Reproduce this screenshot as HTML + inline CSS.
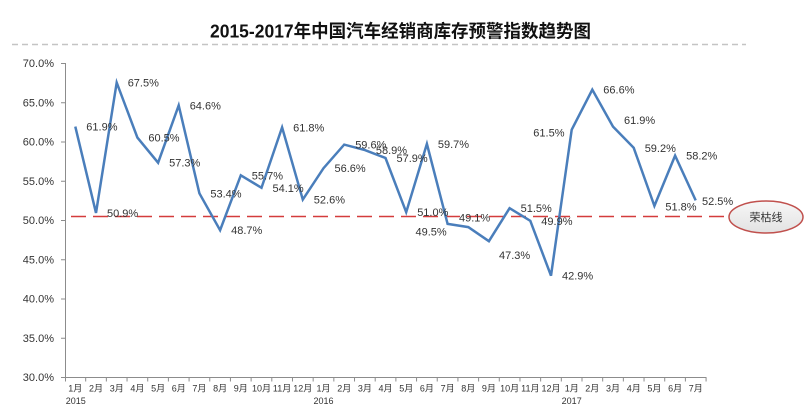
<!DOCTYPE html>
<html>
<head>
<meta charset="utf-8">
<style>
  html, body { margin:0; padding:0; background:#ffffff; }
  body { width:811px; height:412px; overflow:hidden; }
  svg { display:block; }
  .t { font-family:"Liberation Sans","Noto Sans CJK SC",sans-serif; }
</style>
</head>
<body>
<svg width="811" height="412" viewBox="0 0 811 412" xmlns="http://www.w3.org/2000/svg">
  <defs>
    <linearGradient id="eg" x1="0" y1="0" x2="0" y2="1">
      <stop offset="0" stop-color="#f7f7f7"/>
      <stop offset="1" stop-color="#e2e2e2"/>
    </linearGradient>
  </defs>
  <rect width="811" height="412" fill="#ffffff"/>

  <!-- Title -->
  <text class="t" x="210" y="37.5" font-size="18" font-weight="bold" fill="#111" textLength="381" lengthAdjust="spacingAndGlyphs">2015-2017年中国汽车经销商库存预警指数趋势图</text>
  <line x1="12" y1="44.5" x2="746" y2="44.5" stroke="#c4c4c4" stroke-width="1.5" stroke-dasharray="6 4"/>

  <!-- Y axis -->
  <line x1="65.5" y1="63" x2="65.5" y2="377.5" stroke="#8c8c8c" stroke-width="1"/>
  <path d="M61,63.5H65.5 M61,102.75H65.5 M61,142H65.5 M61,181.25H65.5 M61,220.5H65.5 M61,259.75H65.5 M61,299H65.5 M61,338.25H65.5 M61,377.5H65.5" stroke="#8c8c8c" stroke-width="1"/>
  <g class="t" font-size="11" fill="#333" text-anchor="end">
    <text x="54" y="67">70.0%</text>
    <text x="54" y="106.3">65.0%</text>
    <text x="54" y="145.5">60.0%</text>
    <text x="54" y="184.8">55.0%</text>
    <text x="54" y="224">50.0%</text>
    <text x="54" y="263.3">45.0%</text>
    <text x="54" y="302.5">40.0%</text>
    <text x="54" y="341.8">35.0%</text>
    <text x="54" y="381">30.0%</text>
  </g>

  <!-- X axis -->
  <line x1="65" y1="377.5" x2="706.5" y2="377.5" stroke="#8c8c8c" stroke-width="1"/>
  <path d="M65.5,377.5v4 M85.68,377.5v4 M106.36,377.5v4 M127.04,377.5v4 M147.72,377.5v4 M168.4,377.5v4 M189.08,377.5v4 M209.76,377.5v4 M230.44,377.5v4 M251.12,377.5v4 M271.8,377.5v4 M292.48,377.5v4 M313.16,377.5v4 M333.84,377.5v4 M354.52,377.5v4 M375.2,377.5v4 M395.88,377.5v4 M416.56,377.5v4 M437.24,377.5v4 M457.92,377.5v4 M478.6,377.5v4 M499.28,377.5v4 M519.96,377.5v4 M540.64,377.5v4 M561.32,377.5v4 M582,377.5v4 M602.68,377.5v4 M623.36,377.5v4 M644.04,377.5v4 M664.72,377.5v4 M685.4,377.5v4 M706.08,377.5v4" stroke="#8c8c8c" stroke-width="1"/>
  <g class="t" font-size="9" fill="#333" text-anchor="middle">
    <text x="75.3" y="391.5">1月</text>
    <text x="96.0" y="391.5">2月</text>
    <text x="116.7" y="391.5">3月</text>
    <text x="137.4" y="391.5">4月</text>
    <text x="158.1" y="391.5">5月</text>
    <text x="178.7" y="391.5">6月</text>
    <text x="199.4" y="391.5">7月</text>
    <text x="220.1" y="391.5">8月</text>
    <text x="240.8" y="391.5">9月</text>
    <text x="261.5" y="391.5">10月</text>
    <text x="282.1" y="391.5">11月</text>
    <text x="302.8" y="391.5">12月</text>
    <text x="323.5" y="391.5">1月</text>
    <text x="344.2" y="391.5">2月</text>
    <text x="364.9" y="391.5">3月</text>
    <text x="385.5" y="391.5">4月</text>
    <text x="406.2" y="391.5">5月</text>
    <text x="426.9" y="391.5">6月</text>
    <text x="447.6" y="391.5">7月</text>
    <text x="468.3" y="391.5">8月</text>
    <text x="488.9" y="391.5">9月</text>
    <text x="509.6" y="391.5">10月</text>
    <text x="530.3" y="391.5">11月</text>
    <text x="551.0" y="391.5">12月</text>
    <text x="571.7" y="391.5">1月</text>
    <text x="592.3" y="391.5">2月</text>
    <text x="613.0" y="391.5">3月</text>
    <text x="633.7" y="391.5">4月</text>
    <text x="654.4" y="391.5">5月</text>
    <text x="675.1" y="391.5">6月</text>
    <text x="695.7" y="391.5">7月</text>
    <text x="75.8" y="404">2015</text>
    <text x="323.5" y="404">2016</text>
    <text x="571.7" y="404">2017</text>
  </g>

  <!-- Boom-bust line -->
  <line x1="71" y1="216.5" x2="728" y2="216.5" stroke="#d43c3c" stroke-width="1.5" stroke-dasharray="15 7"/>
  <ellipse cx="766" cy="217" rx="37" ry="16" fill="url(#eg)" stroke="#c0504d" stroke-width="1.5"/>
  <text class="t" x="766" y="221" font-size="11" fill="#333" text-anchor="middle">荣枯线</text>

  <!-- Series -->
  <polyline fill="none" stroke="#4a7ebb" stroke-width="2.5" stroke-linejoin="miter" points="75.3,126.6 96.0,212.9 116.7,82.6 137.4,137.6 158.1,162.7 178.7,105.4 199.4,193.3 220.1,230.2 240.8,175.3 261.5,187.8 282.1,127.4 302.8,199.6 323.5,168.2 344.2,144.6 364.9,150.1 385.5,158.0 406.2,212.2 426.9,143.9 447.6,223.9 468.3,227.1 488.9,241.2 509.6,208.2 530.3,220.8 551.0,275.7 571.7,129.7 592.3,89.7 613.0,126.6 633.7,147.8 654.4,205.9 675.1,155.6 695.7,200.4"/>

  <!-- Data labels -->
  <g class="t" font-size="11" fill="#333">
    <text x="86.3" y="130.6">61.9%</text>
    <text x="107" y="216.9">50.9%</text>
    <text x="127.7" y="86.6">67.5%</text>
    <text x="148.4" y="141.6">60.5%</text>
    <text x="169.1" y="166.7">57.3%</text>
    <text x="189.7" y="109.4">64.6%</text>
    <text x="210.4" y="197.3">53.4%</text>
    <text x="231.1" y="234.2">48.7%</text>
    <text x="251.8" y="179.3">55.7%</text>
    <text x="272.5" y="191.8">54.1%</text>
    <text x="293.1" y="131.4">61.8%</text>
    <text x="313.8" y="203.6">52.6%</text>
    <text x="334.5" y="172.2">56.6%</text>
    <text x="355.2" y="148.6">59.6%</text>
    <text x="375.9" y="154.1">58.9%</text>
    <text x="396.5" y="162">57.9%</text>
    <text x="417.2" y="216.2">51.0%</text>
    <text x="437.9" y="147.9">59.7%</text>
    <text x="446.7" y="235.7" text-anchor="end">49.5%</text>
    <text x="459" y="221.3">49.1%</text>
    <text x="499" y="259">47.3%</text>
    <text x="520.6" y="212.2">51.5%</text>
    <text x="541.3" y="224.8">49.9%</text>
    <text x="562" y="279.7">42.9%</text>
    <text x="564.5" y="136.7" text-anchor="end">61.5%</text>
    <text x="603.3" y="93.7">66.6%</text>
    <text x="624" y="124">61.9%</text>
    <text x="644.7" y="151.8">59.2%</text>
    <text x="665.4" y="210.7">51.8%</text>
    <text x="686.1" y="159.6">58.2%</text>
    <text x="702" y="205">52.5%</text>
  </g>
</svg>
</body>
</html>
